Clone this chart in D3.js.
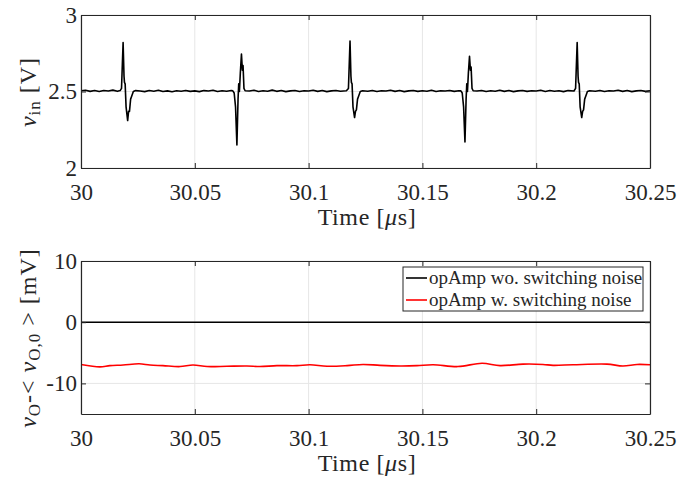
<!DOCTYPE html>
<html>
<head>
<meta charset="utf-8">
<script src="https://cdn.jsdelivr.net/npm/d3@7"></script>
<style>
  body { margin: 0; background: #fff; }
  text { font-family: "Liberation Serif", "Times New Roman", serif; fill: #262626; }
</style>
</head>
<body>
<script>
// ---- data ----
var timeTicks = [30, 30.05, 30.1, 30.15, 30.2, 30.25];
var vinTicks = [2, 2.5, 3];
var outTicks = [-10, 0, 10];

// measured input voltage [us, V]
var vinTrace = [
  [30.000, 2.505], [30.002, 2.508], [30.004, 2.501], [30.006, 2.506], [30.008, 2.500], [30.010, 2.507],
  [30.012, 2.503], [30.014, 2.509], [30.016, 2.501], [30.0172, 2.506],
  [30.0178, 2.52], [30.0185, 2.82], [30.0189, 2.60], [30.0191, 2.56], [30.0194, 2.55], [30.0198, 2.40],
  [30.0205, 2.31], [30.0209, 2.37], [30.0213, 2.37], [30.0218, 2.45], [30.0223, 2.47], [30.0230, 2.50], [30.0240, 2.506],
  [30.026, 2.503], [30.028, 2.499], [30.030, 2.506], [30.032, 2.502], [30.034, 2.508], [30.036, 2.500],
  [30.038, 2.504], [30.040, 2.498], [30.042, 2.505], [30.044, 2.502], [30.046, 2.507], [30.048, 2.501],
  [30.050, 2.504], [30.052, 2.499], [30.054, 2.506], [30.056, 2.503], [30.058, 2.508], [30.060, 2.500],
  [30.062, 2.505], [30.064, 2.502], [30.066, 2.506],
  [30.0667, 2.504], [30.0673, 2.49], [30.0679, 2.40], [30.0685, 2.15], [30.0690, 2.45], [30.0693, 2.55],
  [30.0696, 2.50], [30.0700, 2.62], [30.0705, 2.745], [30.0709, 2.64], [30.0712, 2.67], [30.0716, 2.52], [30.0721, 2.505],
  [30.074, 2.503], [30.076, 2.508], [30.078, 2.500], [30.080, 2.505], [30.082, 2.502], [30.084, 2.509],
  [30.086, 2.501], [30.088, 2.506], [30.090, 2.499], [30.092, 2.504], [30.094, 2.507], [30.096, 2.500],
  [30.098, 2.505], [30.100, 2.503], [30.102, 2.508], [30.104, 2.501], [30.106, 2.506], [30.108, 2.499],
  [30.110, 2.504], [30.112, 2.507], [30.114, 2.502], [30.1166, 2.505],
  [30.1175, 2.52], [30.1182, 2.83], [30.1186, 2.60], [30.1188, 2.56], [30.1191, 2.55], [30.1195, 2.40],
  [30.1202, 2.33], [30.1206, 2.37], [30.1210, 2.38], [30.1215, 2.45], [30.1220, 2.47], [30.1227, 2.50], [30.1237, 2.505],
  [30.126, 2.502], [30.128, 2.507], [30.130, 2.500], [30.132, 2.505], [30.134, 2.503], [30.136, 2.508],
  [30.138, 2.501], [30.140, 2.506], [30.142, 2.499], [30.144, 2.504], [30.146, 2.507], [30.148, 2.501],
  [30.150, 2.505], [30.152, 2.502], [30.154, 2.508], [30.156, 2.500], [30.158, 2.505], [30.160, 2.503],
  [30.162, 2.507], [30.164, 2.501], [30.166, 2.505],
  [30.1669, 2.504], [30.1675, 2.49], [30.1681, 2.40], [30.1687, 2.17], [30.1692, 2.45], [30.1695, 2.55],
  [30.1698, 2.50], [30.1702, 2.62], [30.1707, 2.73], [30.1711, 2.64], [30.1714, 2.66], [30.1718, 2.52], [30.1723, 2.505],
  [30.174, 2.503], [30.176, 2.507], [30.178, 2.500], [30.180, 2.505], [30.182, 2.502], [30.184, 2.508],
  [30.186, 2.501], [30.188, 2.506], [30.190, 2.499], [30.192, 2.504], [30.194, 2.507], [30.196, 2.501],
  [30.198, 2.505], [30.200, 2.503], [30.202, 2.508], [30.204, 2.500], [30.206, 2.506], [30.208, 2.502],
  [30.210, 2.505], [30.212, 2.499], [30.214, 2.506], [30.2166, 2.503],
  [30.2173, 2.52], [30.2180, 2.82], [30.2184, 2.60], [30.2186, 2.56], [30.2189, 2.55], [30.2193, 2.40],
  [30.2200, 2.33], [30.2204, 2.37], [30.2208, 2.38], [30.2213, 2.45], [30.2218, 2.47], [30.2225, 2.50], [30.2235, 2.505],
  [30.226, 2.502], [30.228, 2.507], [30.230, 2.500], [30.232, 2.505], [30.234, 2.503], [30.236, 2.508],
  [30.238, 2.501], [30.240, 2.506], [30.242, 2.499], [30.244, 2.504], [30.246, 2.507], [30.248, 2.501], [30.250, 2.505]
];

// output deviation without switching noise [us, mV]
var cleanTrace = [[30, 0], [30.25, 0]];

// output deviation with switching noise [us, mV]
var noisyTrace = [
  [30.000, -6.92], [30.0083, -7.30], [30.0127, -7.10], [30.0185, -7.00], [30.0255, -6.80], [30.0303, -7.00],
  [30.0360, -7.10], [30.0435, -7.25], [30.0492, -7.00], [30.0554, -7.25], [30.0641, -7.20], [30.0729, -7.15],
  [30.0786, -7.25], [30.0861, -7.10], [30.0949, -7.10], [30.1006, -6.95], [30.1081, -7.20], [30.1169, -7.10],
  [30.1239, -6.90], [30.1314, -7.05], [30.1402, -7.15], [30.1476, -7.10], [30.1547, -6.95], [30.1656, -7.25],
  [30.1762, -6.70], [30.1841, -7.10], [30.1942, -6.85], [30.2030, -6.90], [30.2074, -7.05], [30.2162, -6.95],
  [30.2311, -6.85], [30.2381, -7.15], [30.2443, -6.90], [30.2500, -6.95]
];

var legendLabels = ['opAmp wo. switching noise', 'opAmp w. switching noise'];
var legendColors = ['#000000', '#ff0000'];

// ---- layout ----
var width = 691,
    height = 478;

var svg = d3.select('body').append('svg')
    .attr('width', width)
    .attr('height', height);

var xScale = d3.scaleLinear().domain([30, 30.25]).range([81, 650]);
var yVin = d3.scaleLinear().domain([2, 3]).range([168, 15]);
var yOut = d3.scaleLinear().domain([-15, 10]).range([414, 261]);

var axisColor = '#262626';

// light grid behind the traces
function drawGrid(yScale, yTicks) {
  var top = yScale.range()[1],
      bottom = yScale.range()[0],
      left = xScale.range()[0],
      right = xScale.range()[1];

  var grid = svg.append('g').attr('stroke', '#e6e6e6').attr('stroke-width', 1);
  grid.selectAll('.vgrid')
    .data(timeTicks)
    .enter().append('line')
    .attr('x1', function(d) { return xScale(d); })
    .attr('x2', function(d) { return xScale(d); })
    .attr('y1', top)
    .attr('y2', bottom);
  grid.selectAll('.hgrid')
    .data(yTicks)
    .enter().append('line')
    .attr('x1', left)
    .attr('x2', right)
    .attr('y1', function(d) { return yScale(d); })
    .attr('y2', function(d) { return yScale(d); });
}

// box with inward ticks on all four sides + tick labels
function drawAxes(yScale, yTicks) {
  var top = yScale.range()[1],
      bottom = yScale.range()[0],
      left = xScale.range()[0],
      right = xScale.range()[1];

  var fmt = function(d) { return String(d); };

  var axes = [
    svg.append('g').attr('transform', 'translate(0,' + bottom + ')')
      .call(d3.axisBottom(xScale).tickValues(timeTicks).tickFormat(fmt)
        .tickSize(-5).tickSizeOuter(0).tickPadding(16)),
    svg.append('g').attr('transform', 'translate(0,' + top + ')')
      .call(d3.axisTop(xScale).tickValues(timeTicks).tickFormat('')
        .tickSize(-5).tickSizeOuter(0)),
    svg.append('g').attr('transform', 'translate(' + left + ',0)')
      .call(d3.axisLeft(yScale).tickValues(yTicks).tickFormat(fmt)
        .tickSize(-5).tickSizeOuter(0).tickPadding(4)),
    svg.append('g').attr('transform', 'translate(' + right + ',0)')
      .call(d3.axisRight(yScale).tickValues(yTicks).tickFormat('')
        .tickSize(-5).tickSizeOuter(0))
  ];

  axes.forEach(function(a) {
    a.attr('color', axisColor)
      .attr('font-family', '"Liberation Serif", serif')
      .attr('font-size', 23);
    a.select('.domain').attr('stroke-width', 1.2);
  });
}

function timeLabel(y) {
  var t = svg.append('text')
    .attr('x', 367)
    .attr('y', y)
    .attr('text-anchor', 'middle')
    .attr('font-size', 24)
    .attr('letter-spacing', 0.6);
  t.append('tspan').text('Time [');
  t.append('tspan').attr('font-style', 'italic').text('\u03bc');
  t.append('tspan').text('s]');
}

var line = d3.line()
  .x(function(d) { return xScale(d[0]); });

// ---- top panel: v_in ----
drawGrid(yVin, vinTicks);

svg.append('path')
  .datum(vinTrace)
  .attr('fill', 'none')
  .attr('stroke', '#000')
  .attr('stroke-width', 1.6)
  .attr('stroke-linejoin', 'round')
  .attr('d', line.y(function(d) { return yVin(d[1]); }));

drawAxes(yVin, vinTicks);
timeLabel(225);

var vinLabel = svg.append('text')
  .attr('transform', 'translate(36,92) rotate(-90)')
  .attr('text-anchor', 'middle')
  .attr('font-size', 24)
  .attr('letter-spacing', 1);
vinLabel.append('tspan').attr('font-style', 'italic').text('v');
vinLabel.append('tspan').attr('font-size', 17).attr('dy', 4).text('in');
vinLabel.append('tspan').attr('dy', -4).text(' [V]');

// ---- bottom panel: output deviation ----
drawGrid(yOut, outTicks);

var outLine = d3.line()
  .x(function(d) { return xScale(d[0]); })
  .y(function(d) { return yOut(d[1]); });

svg.append('path')
  .datum(cleanTrace)
  .attr('fill', 'none')
  .attr('stroke', legendColors[0])
  .attr('stroke-width', 1.6)
  .attr('d', outLine);

svg.append('path')
  .datum(noisyTrace)
  .attr('fill', 'none')
  .attr('stroke', legendColors[1])
  .attr('stroke-width', 1.6)
  .attr('d', outLine.curve(d3.curveCatmullRom));

drawAxes(yOut, outTicks);
timeLabel(471);

var outLabel = svg.append('text')
  .attr('transform', 'translate(36,338) rotate(-90)')
  .attr('text-anchor', 'middle')
  .attr('font-size', 24)
  .attr('letter-spacing', 1);
outLabel.append('tspan').attr('font-style', 'italic').text('v');
outLabel.append('tspan').attr('font-size', 17).attr('dy', 4).text('O');
outLabel.append('tspan').attr('dy', -4).text('-< ');
outLabel.append('tspan').attr('font-style', 'italic').text('v');
outLabel.append('tspan').attr('font-size', 17).attr('dy', 4).text('O,0');
outLabel.append('tspan').attr('dy', -4).text(' > [mV]');

// ---- legend ----
var legend = svg.append('g').attr('transform', 'translate(403,267)');
legend.append('rect')
  .attr('width', 240)
  .attr('height', 44)
  .attr('fill', '#fff')
  .attr('stroke', axisColor)
  .attr('stroke-width', 1);

var rows = legend.selectAll('.row')
  .data(legendLabels)
  .enter().append('g')
  .attr('class', 'row')
  .attr('transform', function(d, i) { return 'translate(0,' + (11 + i * 22) + ')'; });

rows.append('line')
  .attr('x1', 3)
  .attr('x2', 24)
  .attr('stroke', function(d, i) { return legendColors[i]; })
  .attr('stroke-width', 1.6);

rows.append('text')
  .attr('x', 26)
  .attr('y', 6)
  .attr('font-size', 19)
  .text(function(d) { return d; });
</script>
</body>
</html>
